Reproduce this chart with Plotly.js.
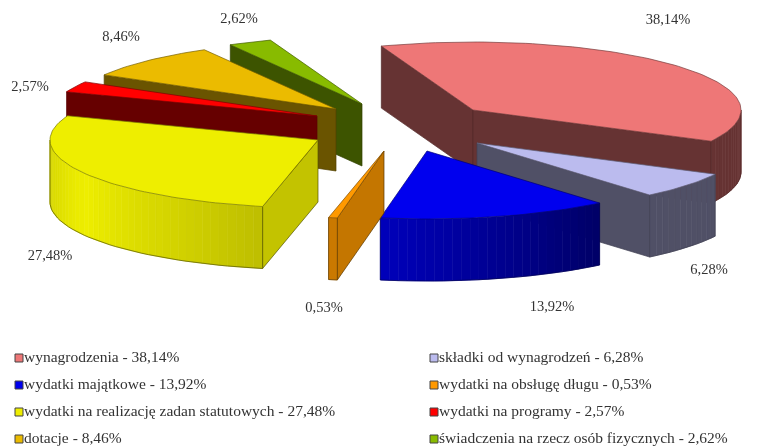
<!DOCTYPE html>
<html>
<head>
<meta charset="utf-8">
<script src="https://cdn.plot.ly/plotly-3.0.1.min.js"></script>
<style>
html,body{margin:0;padding:0;background:#fff;}
#chart{width:766px;height:448px;filter:blur(0.45px);}
</style>
</head>
<body>
<div id="chart"></div>
<script>
// Data
const categories = ["wynagrodzenia","składki od wynagrodzeń","wydatki majątkowe","wydatki na obsługę długu","wydatki na realizację zadan statutowych","wydatki na programy","dotacje","świadczenia na rzecz osób fizycznych"];
const shares = [38.14, 6.28, 13.92, 0.53, 27.48, 2.57, 8.46, 2.62];

// Style and placement
const topColors = [[238,119,119],[187,187,238],[0,0,238],[255,153,0],[238,238,0],[255,0,0],[235,187,0],[136,187,0]];
const cutShade = [0.43,0.43,0.43,0.77,0.82,0.4,0.45,0.45];
const apexX = [473,477,427,384,318,317,336,362];
const apexY = [110,143,151,151,140,116,109,104];
const labelX = [668,709,552,324,50,30,121,239];
const labelY = [20,270,307,308,256,87,37,19];
const legendX = [19,434,19,434,19,434,19,434];
const legendY = [358,358,385,385,412,412,439,439];
const paintOrder = [7,6,5,4,0,1,2,3];
const startAngle = -20, radiusX = 268, radiusY = 68, depth = 62;
const shadeStops = [[0,.43],[140,.43],[192,.8],[240,1],[270,.88],[360,.88]];

const rad = d => d * Math.PI / 180;
const rgb = (c, f) => `rgb(${c.map(v => Math.round(v * f)).join(",")})`;
function shadeAt(t) {
  t = ((t % 360) + 360) % 360;
  for (let i = 1; i < shadeStops.length; i++) {
    const [a, fa] = shadeStops[i-1], [b, fb] = shadeStops[i];
    if (t <= b) return fa + (fb - fa) * (t - a) / (b - a);
  }
  return 1;
}
function polygon(xs, ys, fill, line, w) {
  return {type:"scatter", mode:"lines", x:xs, y:ys, fill:"toself", fillcolor:fill,
    line:{color:line, width:w}, hoverinfo:"skip", showlegend:false};
}
function outline(xs, ys, line, w) {
  return {type:"scatter", mode:"lines", x:xs, y:ys, line:{color:line, width:w}, hoverinfo:"skip", showlegend:false};
}

// Angular range of each slice from its share
const spans = [];
let cum = startAngle;
shares.forEach(v => { const a = v * 3.6; spans.push([cum, cum + a]); cum += a; });

const traces = [];
paintOrder.forEach(i => {
  const [t1, t2] = spans[i], ax = apexX[i], ay = apexY[i], col = topColors[i];
  const px = t => ax + radiusX * Math.sin(rad(t));
  const py = t => ay - radiusY * Math.cos(rad(t));
  const edge = rgb(col, 0.35);

  // Cut walls facing the viewer
  const mid = (t1 + t2) / 2, mx = (ax + px(mid)) / 2, my = (ay + py(mid)) / 2;
  [t1, t2].forEach(t => {
    const ex = px(t), ey = py(t);
    const lineY = ay + (ey - ay) * (mx - ax) / (ex - ax);
    if (my < lineY) {
      traces.push(polygon([ax, ex, ex, ax, ax], [ay, ey, ey + depth, ay + depth, ay],
        rgb(col, cutShade[i]), edge, 0.7));
    }
  });

  // Outer wall (front half of the ellipse only), drawn as shaded strips
  const w1 = Math.max(t1, 90), w2 = Math.min(t2, 270);
  if (w2 > w1) {
    const n = Math.max(1, Math.ceil((w2 - w1) / 2));
    const step = (w2 - w1) / n;
    const lowX = [], lowY = [];
    for (let k = 0; k < n; k++) {
      const a = w1 + k * step, b = a + step;
      const c = rgb(col, shadeAt((a + b) / 2));
      traces.push(polygon([px(a), px(b), px(b), px(a), px(a)],
        [py(a), py(b), py(b) + depth, py(a) + depth, py(a)], c, c, 0.6));
    }
    for (let k = 0; k <= n; k++) { const a = w1 + k * step; lowX.push(px(a)); lowY.push(py(a) + depth); }
    traces.push(outline(lowX, lowY, edge, 0.7));
    traces.push(outline([px(w1), px(w1)], [py(w1), py(w1) + depth], edge, 0.7));
    traces.push(outline([px(w2), px(w2)], [py(w2), py(w2) + depth], edge, 0.7));
  }

  // Top face
  const xs = [ax], ys = [ay];
  const n = Math.max(2, Math.ceil((t2 - t1) / 1.5));
  for (let k = 0; k <= n; k++) { const t = t1 + (t2 - t1) * k / n; xs.push(px(t)); ys.push(py(t)); }
  xs.push(ax); ys.push(ay);
  traces.push(polygon(xs, ys, rgb(col, 1), rgb(col, 0.5), 0.7));
});

const pct = v => v.toFixed(2).replace(".", ",") + "%";

// Slice labels
traces.push({type:"scatter", mode:"text", x:labelX, y:labelY, text:shares.map(pct),
  textposition:"middle center", textfont:{family:"Liberation Serif", size:14.5, color:"#333"},
  hoverinfo:"skip", showlegend:false});

// Legend rows
traces.push({type:"scatter", mode:"markers", x:legendX, y:legendY,
  marker:{symbol:"square", size:8, color:topColors.map(c => rgb(c,1)), line:{color:"#444", width:1}},
  hoverinfo:"skip", showlegend:false});
traces.push({type:"scatter", mode:"text", x:legendX.map(x => x + 5), y:legendY,
  text:categories.map((c,i) => c + " - " + pct(shares[i])),
  textposition:"middle right", textfont:{family:"Liberation Serif", size:15.5, color:"#333"},
  hoverinfo:"skip", showlegend:false});

Plotly.newPlot("chart", traces, {
  width:766, height:448, margin:{l:0,r:0,t:0,b:0}, paper_bgcolor:"#fff", plot_bgcolor:"#fff",
  xaxis:{range:[0,766], visible:false, fixedrange:true},
  yaxis:{range:[448,0], visible:false, fixedrange:true},
  showlegend:false
}, {displayModeBar:false, staticPlot:true});
</script>
</body>
</html>
